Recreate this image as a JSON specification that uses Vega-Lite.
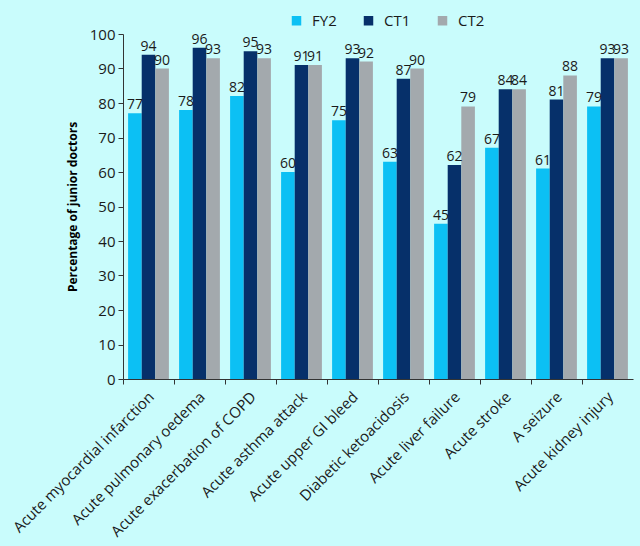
{
  "$schema": "https://vega.github.io/schema/vega-lite/v6.json",
  "autosize": {"type": "none"},
  "width": 510,
  "height": 345,
  "padding": {"left": 123, "top": 34, "right": 7, "bottom": 167},
  "background": "#c9fcfc",
  "config": {
    "view": {"stroke": null},
    "font": "Open Sans",
    "axis": {"labelFont": "Open Sans", "titleFont": "Open Sans", "labelColor": "#1a1a1a", "domainColor": "#333333", "tickColor": "#333333", "grid": false}
  },
  "data": {
    "values": [
      {"condition": "Acute myocardial infarction", "grade": "FY2", "value": 77},
      {"condition": "Acute myocardial infarction", "grade": "CT1", "value": 94},
      {"condition": "Acute myocardial infarction", "grade": "CT2", "value": 90},
      {"condition": "Acute pulmonary oedema", "grade": "FY2", "value": 78},
      {"condition": "Acute pulmonary oedema", "grade": "CT1", "value": 96},
      {"condition": "Acute pulmonary oedema", "grade": "CT2", "value": 93},
      {"condition": "Acute exacerbation of COPD", "grade": "FY2", "value": 82},
      {"condition": "Acute exacerbation of COPD", "grade": "CT1", "value": 95},
      {"condition": "Acute exacerbation of COPD", "grade": "CT2", "value": 93},
      {"condition": "Acute asthma attack", "grade": "FY2", "value": 60},
      {"condition": "Acute asthma attack", "grade": "CT1", "value": 91},
      {"condition": "Acute asthma attack", "grade": "CT2", "value": 91},
      {"condition": "Acute upper GI bleed", "grade": "FY2", "value": 75},
      {"condition": "Acute upper GI bleed", "grade": "CT1", "value": 93},
      {"condition": "Acute upper GI bleed", "grade": "CT2", "value": 92},
      {"condition": "Diabetic ketoacidosis", "grade": "FY2", "value": 63},
      {"condition": "Diabetic ketoacidosis", "grade": "CT1", "value": 87},
      {"condition": "Diabetic ketoacidosis", "grade": "CT2", "value": 90},
      {"condition": "Acute liver failure", "grade": "FY2", "value": 45},
      {"condition": "Acute liver failure", "grade": "CT1", "value": 62},
      {"condition": "Acute liver failure", "grade": "CT2", "value": 79},
      {"condition": "Acute stroke", "grade": "FY2", "value": 67},
      {"condition": "Acute stroke", "grade": "CT1", "value": 84},
      {"condition": "Acute stroke", "grade": "CT2", "value": 84},
      {"condition": "A seizure", "grade": "FY2", "value": 61},
      {"condition": "A seizure", "grade": "CT1", "value": 81},
      {"condition": "A seizure", "grade": "CT2", "value": 88},
      {"condition": "Acute kidney injury", "grade": "FY2", "value": 79},
      {"condition": "Acute kidney injury", "grade": "CT1", "value": 93},
      {"condition": "Acute kidney injury", "grade": "CT2", "value": 93}
    ]
  },
  "encoding": {
    "x": {
      "field": "condition",
      "type": "nominal",
      "sort": null,
      "scale": {"paddingInner": 0.2, "paddingOuter": 0.1},
      "axis": {
        "title": null,
        "labelAngle": -45,
        "labelFontSize": 15,
        "labelLimit": 400,
        "labelPadding": 5,
        "tickSize": 5,
        "tickOffset": -25.5,
        "labelOffset": 23,
        "labelAlign": "right",
        "labelBaseline": "top"
      }
    },
    "xOffset": {"field": "grade", "type": "nominal", "sort": ["FY2", "CT1", "CT2"]},
    "y": {
      "field": "value",
      "type": "quantitative",
      "scale": {"domain": [0, 100]},
      "axis": {
        "title": "Percentage of junior doctors",
        "titleFontSize": 12,
        "titleFontWeight": "bold",
        "titleColor": "#000000",
        "titlePadding": 10,
        "values": [0, 10, 20, 30, 40, 50, 60, 70, 80, 90, 100],
        "labelFontSize": 15,
        "labelPadding": 3,
        "tickSize": 5
      }
    }
  },
  "layer": [
    {
      "mark": {"type": "bar"},
      "encoding": {
        "color": {
          "field": "grade",
          "type": "nominal",
          "sort": ["FY2", "CT1", "CT2"],
          "scale": {"domain": ["FY2", "CT1", "CT2"], "range": ["#0cc0f4", "#06306a", "#a3a9ad"]},
          "legend": {
            "title": null,
            "orient": "none",
            "direction": "horizontal",
            "legendX": 166,
            "legendY": -21,
            "symbolType": "square",
            "symbolSize": 90,
            "symbolStrokeWidth": 0,
            "labelFontSize": 15,
            "labelFont": "Open Sans",
            "labelColor": "#1a1a1a",
            "columnPadding": 24,
            "labelOffset": 8
          }
        }
      }
    },
    {
      "mark": {"type": "text", "baseline": "bottom", "dy": -1, "fontSize": 14, "color": "#1a1a1a"},
      "encoding": {"text": {"field": "value", "type": "quantitative"}}
    }
  ]
}
